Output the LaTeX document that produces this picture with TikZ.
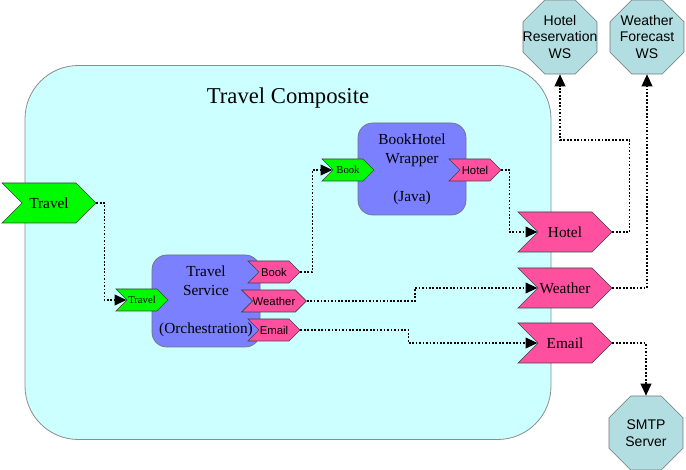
\documentclass[tikz,border=0pt]{standalone}
\usepackage{fontspec}
\setmainfont{Liberation Serif}
\setsansfont{Liberation Sans}
\usetikzlibrary{shapes.symbols}
\usetikzlibrary{shapes.geometric}
\usetikzlibrary{arrows.meta}
\usetikzlibrary{calc}

\definecolor{compfill}{RGB}{204,255,255}
\definecolor{implblue}{RGB}{122,128,255}
\definecolor{refgreen}{RGB}{0,250,0}
\definecolor{refpink}{RGB}{255,80,160}
\definecolor{wsfill}{RGB}{178,222,226}

\begin{document}
\begin{tikzpicture}[x=0.75pt,y=-0.75pt,
  composite/.style={draw=black!45, fill=compfill, line width=0.6pt,
    rounded corners=40pt, minimum width=394.5pt, minimum height=280.5pt},
  impl/.style={draw=black!55, fill=implblue, line width=0.5pt,
    rounded corners=11pt, minimum width=81pt, minimum height=69pt,
    align=center, font=\fontsize{11.5}{14.2}\selectfont},
  chevron/.style={shape=signal, signal from=west, signal to=east,
    draw=black!75, line width=0.5pt, inner sep=0pt},
  bigref/.style={chevron, minimum width=70.5pt, minimum height=30pt,
    font=\fontsize{11.5}{14}\selectfont},
  smallref/.style={chevron, minimum width=39pt, minimum height=16.5pt},
  ws/.style={shape=regular polygon, regular polygon sides=8, draw=black!55,
    fill=wsfill, line width=0.5pt, minimum size=60pt, inner sep=0pt},
  wstext/.style={align=center, font=\sffamily\fontsize{10.5}{12.4}\selectfont},
  wire/.style={line width=1.3pt, dash pattern=on 1.3pt off 1.3pt,
    -{Triangle[length=9pt,width=8pt]}},
]
  \useasboundingbox (0,0) rectangle (686,470);

  % composite and its title
  \node[composite] (comp) at (288,252.5) {};
  \node[font=\fontsize{17}{20}\selectfont] (title) at (288,98) {Travel Composite};

  % components
  \node[impl] (service) at (206,301) {Travel\\Service\\ \\(Orchestration)};
  \node[impl] (wrapper) at (412,169) {BookHotel\\Wrapper\\ \\(Java)};

  % services and references of the components
  \node[smallref, fill=refgreen, font=\fontsize{8}{9}\selectfont] (travelr) at (142,300) {Travel};
  \node[smallref, fill=refpink, font=\sffamily\fontsize{8.5}{9}\selectfont] (bookr) at (274,272) {Book};
  \node[smallref, fill=refpink, font=\sffamily\fontsize{8.5}{9}\selectfont] (weatherr) at (274,301) {Weather};
  \node[smallref, fill=refpink, font=\sffamily\fontsize{8.5}{9}\selectfont] (emailr) at (274,330) {Email};
  \node[smallref, fill=refgreen, font=\fontsize{8}{9}\selectfont] (bookw) at (348,170) {Book};
  \node[smallref, fill=refpink, font=\sffamily\fontsize{8.5}{9}\selectfont] (hotelr) at (475,170) {Hotel};

  % promoted service and references of the composite
  \node[bigref, fill=refgreen] (travelp) at (49,203) {Travel};
  \node[bigref, fill=refpink] (hotelp) at (565,232) {Hotel};
  \node[bigref, fill=refpink] (weatherp) at (565,288) {Weather};
  \node[bigref, fill=refpink] (emailp) at (565,343) {Email};

  % external web services
  \node[ws, label={[wstext]center:{Hotel\\Reservation\\WS}}] (hotelws) at (560,37) {};
  \node[ws, label={[wstext]center:{Weather\\Forecast\\WS}}] (weatherws) at (647,37) {};
  \node[ws, label={[wstext]center:{SMTP\\Server}}] (smtp) at (646,433) {};

  % wires
  \draw[wire] (travelp.east) -- ++(8,0) |- (travelr.west);
  \draw[wire] (bookr.east) -- ++(12,0) |- (bookw.west);
  \draw[wire] (hotelr.east) -- ++(8,0) |- (hotelp.west);
  \draw[wire] (weatherr.east) -- ++(108,0) |- (weatherp.west);
  \draw[wire] (emailr.east) -- ++(108,0) |- (emailp.west);
  \draw[wire] (hotelp.east) -- ++(17,0) -- ++(0,-92) -| (hotelws.south);
  \draw[wire] (weatherp.east) -| (weatherws.south);
  \draw[wire] (emailp.east) -| (smtp.north);
\end{tikzpicture}
\end{document}
